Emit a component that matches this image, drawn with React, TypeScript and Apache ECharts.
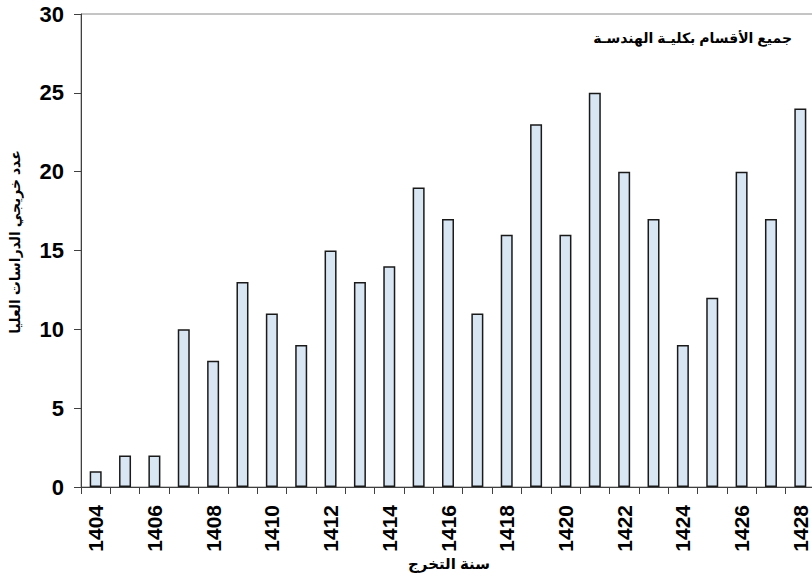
import React, { useEffect, useRef } from "react";
import * as echarts from "echarts";

const categories = [
  "1404", "1405", "1406", "1407", "1408", "1409", "1410", "1411", "1412", "1413",
  "1414", "1415", "1416", "1417", "1418", "1419", "1420", "1421", "1422", "1423",
  "1424", "1425", "1426", "1427", "1428",
];
const graduates = [1, 2, 2, 10, 8, 13, 11, 9, 15, 13, 14, 19, 17, 11, 16, 23, 16, 25, 20, 17, 9, 12, 20, 17, 24];

const xTitle = "سنة التخرج";
const yTitle = "عدد خريجي الدراسات العليا";
const noteText = "جميع الأقسام بكليـة الهندسـة";

const FONT = 'Arial, "Liberation Sans", "DejaVu Sans", sans-serif';

export default function App() {
  const ref = useRef<HTMLDivElement>(null);
  useEffect(() => {
    if (!ref.current) return;
    const chart = echarts.init(ref.current, null, { renderer: "svg" });
    chart.setOption({
      animation: false,
      backgroundColor: "#ffffff",
      grid: {
        left: 81,
        right: -3,
        top: 14,
        bottom: 91,
        containLabel: false,
        outerBoundsMode: "none",
        show: true,
        borderColor: "#8a8a8a",
        borderWidth: 1,
      },
      xAxis: {
        type: "category",
        data: categories,
        boundaryGap: true,
        axisLine: { lineStyle: { color: "#404040", width: 1 } },
        axisTick: { show: true, interval: 0, length: 7, alignWithLabel: false, lineStyle: { color: "#404040" } },
        axisLabel: {
          interval: 1,
          rotate: 90,
          margin: 18,
          fontFamily: FONT,
          fontWeight: "bold",
          fontSize: 21,
          color: "#000",
        },
        splitLine: { show: false },
      },
      yAxis: {
        type: "value",
        min: 0,
        max: 30,
        interval: 5,
        axisLine: { show: true, lineStyle: { color: "#404040", width: 1 } },
        axisTick: { show: true, length: 7, lineStyle: { color: "#404040" } },
        axisLabel: {
          margin: 17,
          fontFamily: FONT,
          fontWeight: "bold",
          fontSize: 22,
          color: "#000",
        },
        splitLine: { show: false },
      },
      series: [
        {
          type: "bar",
          data: graduates,
          barWidth: 12,
          itemStyle: { color: "#d8e6f4", borderColor: "#1a1a1a", borderWidth: 1.5 },
        },
      ],
      graphic: [
        {
          type: "text",
          x: 15,
          y: 242,
          rotation: Math.PI / 2,
          style: {
            text: yTitle,
            fontFamily: FONT,
            fontWeight: "bold",
            fontSize: 14,
            fill: "#000",
            align: "center",
            verticalAlign: "middle",
          },
        },
        {
          type: "text",
          x: 449,
          y: 563,
          style: {
            text: xTitle,
            fontFamily: FONT,
            fontWeight: "bold",
            fontSize: 15,
            fill: "#000",
            align: "center",
            verticalAlign: "middle",
          },
        },
        {
          type: "text",
          x: 792,
          y: 38,
          style: {
            text: noteText,
            fontFamily: FONT,
            fontWeight: "bold",
            fontSize: 14,
            fill: "#000",
            align: "right",
            verticalAlign: "middle",
          },
        },
      ],
    });
    return () => chart.dispose();
  }, []);
  return <div ref={ref} style={{ position: "fixed", left: 0, top: 0, width: 812, height: 578 }} />;
}
